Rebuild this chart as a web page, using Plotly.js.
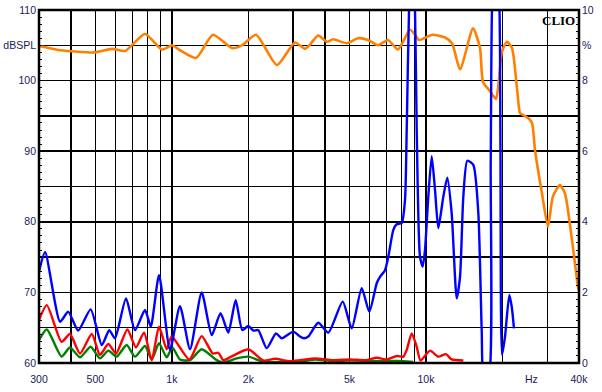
<!DOCTYPE html>
<html>
<head>
<meta charset="utf-8">
<script src="https://cdn.plot.ly/plotly-3.0.1.min.js"></script>
<style>html,body{margin:0;padding:0;background:#fff;}#chart{width:602px;height:392px;}</style>
</head>
<body>
<div id="chart"></div>
<script>
// Frequency response (dBSPL, left axis)
const splFreq = [300,363,498,581,654,784,914,1001,1076,1244,1451,1724,1888,2143,2592,3051,3341,3496,3760,4078,4306,4888,5400,5914,6473,7086,7758,8651,9053,9383,10368,10653,11880,12658,13611,15315,16312,16760,17858,18855,19202,19910,20831,21797,22805,23432,23862,25209,26137,26835,28602,30200,31586,33665,35228,37541,39640,40000];
const splDb = [104.9,104.3,104.0,104.5,104.2,106.6,104.4,105.0,104.3,103.2,106.5,104.6,105.0,106.5,102.2,105.4,104.5,105.1,106.4,105.5,105.85,105.3,106.0,105.75,105.0,105.75,104.4,107.2,106.5,105.75,106.4,106.5,106.1,105.3,101.6,107.4,104.6,99.8,98.5,97.4,98.9,104.1,105.5,104.6,98.9,95.4,95.2,94.7,94.0,90.2,84.0,79.3,83.6,85.2,84.0,77.4,70.8,70.3];

// Total harmonic distortion (%, right axis)
const thdFreq = [300,317,363,391,428,479,530,567,597,660,716,784,826,890,983,1076,1179,1310,1435,1554,1667,1783,1893,1999,2092,2188,2361,2569,2705,3005,3193,3309,3441,3768,4125,4701,5101,5585,5983,6399,6591,6898,7107,7438,7668,8024,8267,8396,8574,8811,9053,9193,9470,9706,9909,10210,10531,10851,11181,11698,12129,12621,13207,13611,14023,14538,15351,16069,16564,16913,17584,17973,18183,18767,19458,19638,19910,20460,21271,21741,22195];
const thdPct = [2.59,3.14,1.17,1.45,0.92,1.52,0.51,0.93,0.70,1.83,0.93,1.50,1.03,2.49,0.37,1.61,0.39,2.0,0.79,1.41,0.86,1.78,0.93,1.05,0.92,0.93,0.42,0.84,0.70,0.89,0.75,0.70,0.75,1.14,0.86,1.74,0.98,2.12,1.45,2.26,2.44,2.63,3.01,3.77,3.93,3.97,4.62,6.6,10,12,10,6.6,3.01,2.73,3.2,4.71,5.86,4.9,3.82,4.71,5.25,4.24,1.83,2.44,4.71,5.73,5.61,4.24,0.93,-0.5,-0.5,5.66,10,12,10,6,0.23,0.75,1.93,1.6,0.98];

// 2nd harmonic (%)
const h2Freq = [300,322,368,397,435,484,521,562,603,668,722,777,833,890,954,998,1171,1310,1448,1523,1594,1693,1999,2290,2546,2916,3193,3658,4318,5021,5844,6399,7004,7668,8141,8396,8786,9193,9514,10368,11181,11988,12621,14023];
const h2Pct = [1.22,1.64,0.60,0.82,0.27,0.82,0.23,0.54,0.27,0.95,0.44,0.86,0.08,1.03,0.39,0.75,0.10,0.76,0.27,0.29,0.08,0.16,0.39,0.07,0.12,0.05,0.08,0.13,0.08,0.10,0.08,0.15,0.10,0.20,0.18,0.37,0.84,0.46,0.07,0.35,0.18,0.25,0.10,0.07];

// 3rd harmonic (%)
const h3Freq = [300,322,368,397,435,479,521,562,606,664,716,784,833,890,954,1004,1076,1179,1310,1501,1594,1799,1999,2290,3193,3658,4318,5021,6399,7668,8651,8889];
const h3Pct = [0.65,0.95,0.18,0.44,0.16,0.46,0.13,0.35,0.18,0.51,0.18,0.48,0.10,0.56,0.16,0.44,0.10,0.08,0.39,0.08,0.01,0.13,0.18,0.04,0.04,0.10,0.05,0.08,0.05,0.06,0.04,0.03];

// Axis ticks
const xGrid = [300,400,500,600,700,800,900,1000,2000,3000,4000,5000,6000,7000,8000,9000,10000,20000,30000,40000];
const xLabels = ['300','','500','','','','','1k','2k','','','5k','','','','','10k','','','40k'];
const yLeftVals = [60,65,70,75,80,85,90,95,100,105,110];
const yLeftText = ['60','','70','','80','','90','','100','dBSPL','110'];
const yRightVals = [0,1,2,3,4,5,6,7,8,9,10];
const yRightText = ['0','','2','','4','','6','','8','%','10'];

const tickFont = {family:'Liberation Sans, Arial, sans-serif', size:10.5, color:'#1a1a5a'};

const traces = [
  {x:splFreq, y:splDb, type:'scatter', mode:'lines', line:{color:'#ff8000', width:2.6, shape:'spline', smoothing:0.6}, yaxis:'y', hoverinfo:'skip'},
  {x:h3Freq, y:h3Pct, type:'scatter', mode:'lines', line:{color:'#008000', width:2.4, shape:'spline', smoothing:0.6}, yaxis:'y2', hoverinfo:'skip'},
  {x:h2Freq, y:h2Pct, type:'scatter', mode:'lines', line:{color:'#ff0000', width:2.4, shape:'spline', smoothing:0.6}, yaxis:'y2', hoverinfo:'skip'},
  {x:thdFreq, y:thdPct, type:'scatter', mode:'lines', line:{color:'#0000ff', width:2.4, shape:'spline', smoothing:0.6}, yaxis:'y2', hoverinfo:'skip'}
];

const layout = {
  width:602, height:392,
  margin:{l:39, r:23, t:10, b:29, pad:0},
  paper_bgcolor:'#ffffff', plot_bgcolor:'#ffffff',
  showlegend:false,
  xaxis:{type:'log', range:[Math.log10(300), Math.log10(40000)], tickmode:'array', tickvals:xGrid, ticktext:xLabels,
         showgrid:true, gridcolor:'#000000', gridwidth:1.5, ticks:'', ticklabelstandoff:8, zeroline:false, showline:false, tickfont:tickFont, fixedrange:true},
  yaxis:{range:[60,110], tickmode:'array', tickvals:yLeftVals, ticktext:yLeftText, showgrid:true, gridcolor:'#000000', gridwidth:1.5,
         ticks:'', ticklabelstandoff:2, zeroline:false, showline:false, tickfont:tickFont, fixedrange:true,
         minor:{tickmode:'linear', tick0:60, dtick:1, ticks:'inside', ticklen:3, tickwidth:1, tickcolor:'#000000', showgrid:false}},
  yaxis2:{range:[0,10], overlaying:'y', side:'right', tickmode:'array', tickvals:yRightVals, ticktext:yRightText, showgrid:false,
          ticks:'', ticklabelstandoff:2, zeroline:false, showline:false, tickfont:tickFont, fixedrange:true,
          minor:{tickmode:'linear', tick0:0, dtick:0.2, ticks:'inside', ticklen:3, tickwidth:1, tickcolor:'#000000', showgrid:false}},
  shapes:[{type:'rect', xref:'paper', yref:'paper', x0:0, x1:1, y0:0, y1:1, line:{color:'#000000', width:2.5}, layer:'above'}],
  annotations:[
    {xref:'paper', yref:'paper', x:1, y:1, xanchor:'right', yanchor:'top', xshift:-2, yshift:-1, showarrow:false,
     text:'<b>CLIO</b>', font:{family:'Liberation Serif, Times New Roman, serif', size:13, color:'#000000'}},
    {xref:'x', yref:'paper', x:Math.log10(26000), y:0, xanchor:'center', yanchor:'top', yshift:-8, showarrow:false,
     text:'Hz', font:tickFont}
  ]
};

Plotly.newPlot('chart', traces, layout, {staticPlot:true, displayModeBar:false});
</script>
</body>
</html>
